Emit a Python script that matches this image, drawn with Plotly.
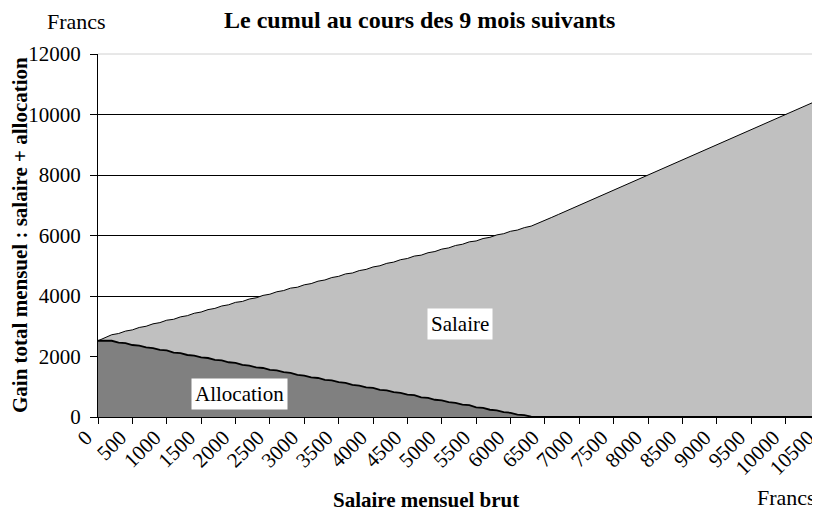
import plotly.graph_objects as go

# Salaire mensuel brut (francs), one point every 100 F
salaire_brut = [
    0, 100, 200, 300, 400, 500, 600, 700, 800, 900,
    1000, 1100, 1200, 1300, 1400, 1500, 1600, 1700, 1800, 1900,
    2000, 2100, 2200, 2300, 2400, 2500, 2600, 2700, 2800, 2900,
    3000, 3100, 3200, 3300, 3400, 3500, 3600, 3700, 3800, 3900,
    4000, 4100, 4200, 4300, 4400, 4500, 4600, 4700, 4800, 4900,
    5000, 5100, 5200, 5300, 5400, 5500, 5600, 5700, 5800, 5900,
    6000, 6100, 6200, 6300, 6400, 6500, 6600, 6700, 6800, 6900,
    7000, 7100, 7200, 7300, 7400, 7500, 7600, 7700, 7800, 7900,
    8000, 8100, 8200, 8300, 8400, 8500, 8600, 8700, 8800, 8900,
    9000, 9100, 9200, 9300, 9400, 9500, 9600, 9700, 9800, 9900,
    10000, 10100, 10200, 10300, 10400, 10500,
]

# Allocation (francs)
allocation = [
    2520, 2520, 2520, 2460, 2440, 2380, 2360, 2300, 2280, 2220,
    2200, 2130, 2110, 2050, 2030, 1970, 1950, 1890, 1870, 1810,
    1790, 1720, 1700, 1640, 1620, 1560, 1540, 1480, 1460, 1390,
    1370, 1310, 1290, 1230, 1210, 1150, 1130, 1060, 1040, 980,
    960, 900, 880, 820, 800, 740, 720, 650, 630, 570,
    550, 490, 470, 410, 390, 320, 300, 240, 220, 160,
    140, 80, 60, 10, 0, 0, 0, 0, 0, 0,
    0, 0, 0, 0, 0, 0, 0, 0, 0, 0,
    0, 0, 0, 0, 0, 0, 0, 0, 0, 0,
    0, 0, 0, 0, 0, 0, 0, 0, 0, 0,
    0, 0, 0, 0, 0, 0,
]

FONT = "Liberation Serif"

# the page body adds an 8px margin, so the figure is sized/placed to compensate
fig = go.Figure()

# Stacked areas: allocation at the bottom, salary on top
fig.add_trace(go.Scatter(
    x=salaire_brut, y=allocation, name="Allocation",
    stackgroup="one", mode="lines",
    line=dict(color="black", width=1.8),
    fillcolor="#808080",
))
fig.add_trace(go.Scatter(
    x=salaire_brut, y=salaire_brut, name="Salaire",
    stackgroup="one", mode="lines",
    line=dict(color="black", width=1),
    fillcolor="#c0c0c0",
))

fig.update_layout(
    width=812, height=505,
    margin=dict(l=90, r=0, t=46, b=96),
    paper_bgcolor="white", plot_bgcolor="white",
    showlegend=False,
    font=dict(family=FONT, size=21, color="black"),
)

fig.update_xaxes(
    range=[0, 10500.5], tick0=0, dtick=500, tickformat="d",
    tickangle=-45, ticks="outside", ticklen=6, tickcolor="black",
    ticklabelstandoff=-7, ticklabelshift=-12,
    ticklabeloverflow="allow",
    showline=True, linecolor="black", linewidth=1,
    showgrid=False, zeroline=False, automargin=False,
)
fig.update_yaxes(
    range=[0, 12000], tick0=0, dtick=2000, tickformat="d",
    ticks="outside", ticklen=7, tickcolor="black",
    ticklabelstandoff=5,
    showline=True, linecolor="black", linewidth=1,
    showgrid=True, gridcolor="black", gridwidth=1,
    zeroline=False, automargin=False,
)

# light top border of the plot area
fig.add_shape(type="line", xref="paper", yref="paper",
              x0=0, x1=1, y0=1, y1=1,
              line=dict(color="#d0d0d0", width=1), layer="above")

# positions below are measured relative to the plot area (left 98, top 54, bottom 417 in the reference)
fig.add_annotation(
    text="<b>Le cumul au cours des 9 mois suivants</b>",
    xref="paper", yref="paper", x=(419 - 98) / 722, y=1 + (54 - 20) / 363,
    xanchor="center", yanchor="middle", showarrow=False,
    font=dict(size=24),
)
fig.add_annotation(
    text="Francs", xref="paper", yref="paper",
    x=(45 - 98) / 722, y=1 + (54 - 21) / 363,
    xanchor="left", yanchor="middle", showarrow=False,
    font=dict(size=22),
)
fig.add_annotation(
    text="Francs", xref="paper", yref="paper",
    x=(818 - 98) / 722, y=-(497 - 417) / 363,
    xanchor="right", yanchor="middle", showarrow=False,
    font=dict(size=22),
)
fig.add_annotation(
    text="<b>Salaire mensuel brut</b>", xref="paper", yref="paper",
    x=(331 - 98) / 722, y=-(500 - 417) / 363,
    xanchor="left", yanchor="middle", showarrow=False,
    font=dict(size=21),
)
fig.add_annotation(
    text="<b>Gain total mensuel : salaire + allocation</b>",
    xref="paper", yref="paper",
    x=(20 - 98) / 722, y=(417 - 235) / 363,
    xanchor="center", yanchor="middle", textangle=-90, showarrow=False,
    font=dict(size=21),
)

# series labels in white boxes
fig.add_annotation(
    text="Salaire", x=5265, y=3060, showarrow=False,
    bgcolor="white", borderpad=3, font=dict(size=21),
)
fig.add_annotation(
    text="Allocation", x=2065, y=760, showarrow=False,
    bgcolor="white", borderpad=3, font=dict(size=21),
)

fig.write_html("out.html")
